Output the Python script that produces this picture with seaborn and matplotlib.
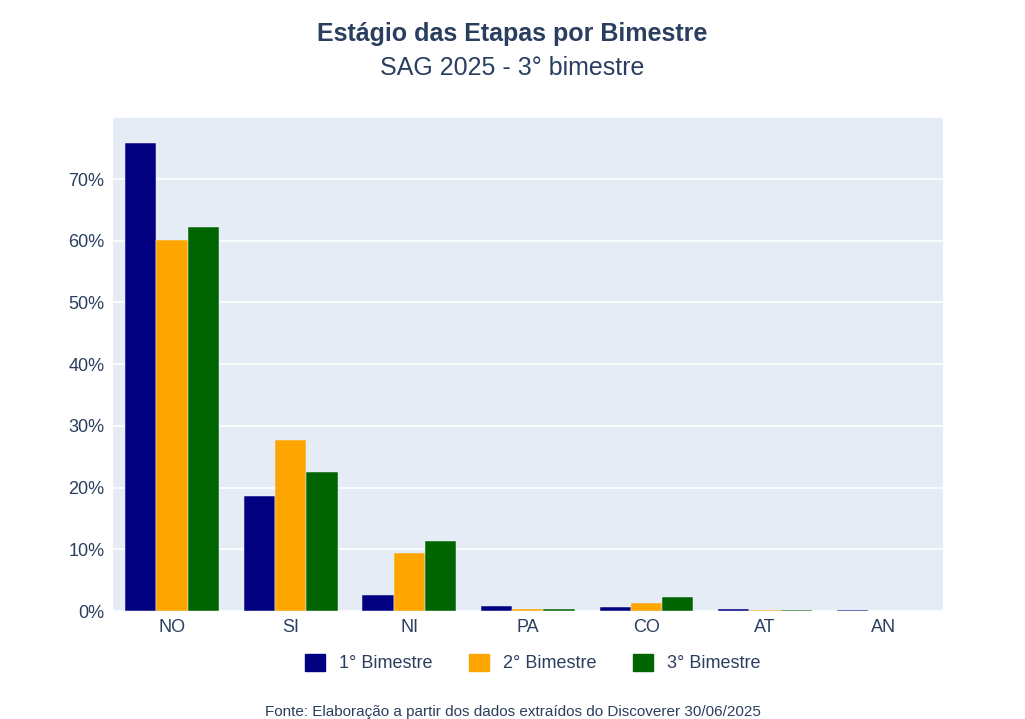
"""
Estágio das Etapas por Bimestre - SAG 2025.
"""
import matplotlib
matplotlib.use("Agg")
import matplotlib.pyplot as plt
from matplotlib.ticker import FuncFormatter
import pandas as pd
import seaborn as sns

categorias = ["NO", "SI", "NI", "PA", "CO", "AT", "AN"]
bimestres = ["1° Bimestre", "2° Bimestre", "3° Bimestre"]
bim1 = [75.8, 18.7, 2.6, 0.8, 0.7, 0.4, 0.15]
bim2 = [60.1, 27.8, 9.4, 0.35, 1.35, 0.2, 0.1]
bim3 = [62.3, 22.6, 11.4, 0.35, 2.3, 0.25, 0.1]
cores = ["#000080", "#FFA500", "#006400"]

df = pd.DataFrame({
    "categoria": categorias * 3,
    "bimestre": [b for b in bimestres for _ in categorias],
    "valor": bim1 + bim2 + bim3,
})

sns.set_theme(style="white")
plt.rcParams["font.family"] = ["Liberation Sans", "DejaVu Sans"]

fig = plt.figure(figsize=(10.25, 7.19), dpi=100)
ax = fig.add_axes([0.110, 0.150, 0.810, 0.686])
ax.set_facecolor("#E5ECF6")

sns.barplot(data=df, x="categoria", y="valor", hue="bimestre",
            palette=cores, width=0.79, ax=ax, legend=False,
            edgecolor="#E5ECF6", linewidth=0.35, saturation=1)

ax.set_ylim(0, 79.9)
ax.set_xlim(-0.5, len(categorias) - 0.5)
ax.set_yticks(range(0, 80, 10))
ax.yaxis.set_major_formatter(FuncFormatter(lambda v, _: f"{v:.0f}%"))
ax.grid(axis="y", color="white", linewidth=1.2)
ax.set_axisbelow(True)
for s in ax.spines.values():
    s.set_visible(False)
ax.tick_params(axis="both", length=0, labelsize=13, colors="#2a3f5f", pad=6)
ax.set_xlabel("")
ax.set_ylabel("")

fig.text(0.5, 0.953, "Estágio das Etapas por Bimestre", ha="center", va="center",
         fontsize=18, fontweight="bold", color="#2a3f5f")
fig.text(0.5, 0.906, "SAG 2025 - 3° bimestre", ha="center", va="center",
         fontsize=18, color="#2a3f5f")

handles = [plt.Rectangle((0, 0), 1, 1, color=c) for c in cores]
fig.legend(handles, bimestres, loc="center", bbox_to_anchor=(0.52, 0.078), ncol=3,
           frameon=False, fontsize=13, handlelength=1.1, handleheight=1.1,
           columnspacing=2.0, labelcolor="#2a3f5f")

fig.text(0.5, 0.010, "Fonte: Elaboração a partir dos dados extraídos do Discoverer 30/06/2025",
         ha="center", va="center", fontsize=11, color="#2a3f5f")

fig.savefig("out.png", dpi=100, facecolor="white")
